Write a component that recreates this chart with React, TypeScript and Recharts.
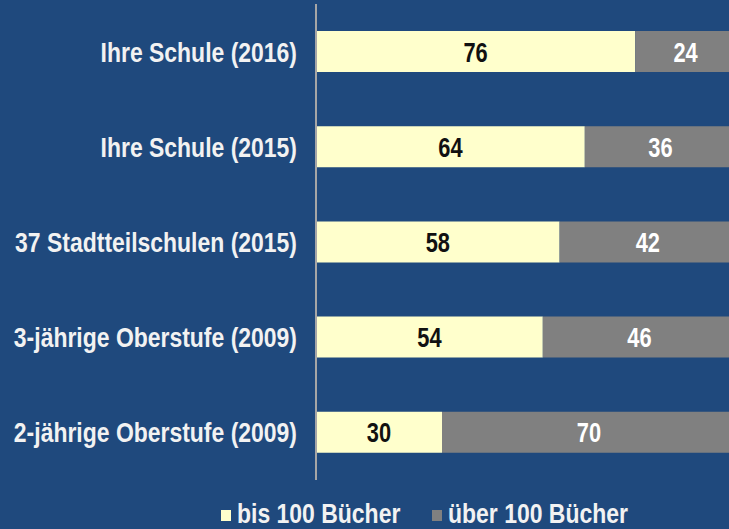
import React from 'react';
import { BarChart, Bar, XAxis, YAxis, LabelList } from 'recharts';

// Kategorien und Werte (Anteile in %)
const categories = [
  'Ihre Schule (2016)',
  'Ihre Schule (2015)',
  '37 Stadtteilschulen (2015)',
  '3-jährige Oberstufe (2009)',
  '2-jährige Oberstufe (2009)',
];
const bis100 = [76, 64, 58, 54, 30];
const ueber100 = [24, 36, 42, 46, 70];

const seriesNames = ['bis 100 Bücher', 'über 100 Bücher'];
const seriesColors = ['#ffffcc', '#808080'];
const labelColors = ['#111111', '#ffffff'];

const chartData = categories.map((name, i) => ({
  name,
  bis: bis100[i],
  ueber: ueber100[i],
}));

// keine Narrow-Schrift vorhanden -> Liberation Sans Bold horizontal stauchen
const FONT = "'Liberation Sans', Arial, sans-serif";
const SQUEEZE = 0.82;
const BG = '#1f497d';

const CategoryTick = (props: any) => {
  const { x, y, payload } = props;
  return (
    <g transform={`translate(${x},${y}) scale(${SQUEEZE},1)`}>
      <text
        x={0}
        y={0}
        dy={10}
        textAnchor="end"
        fill="#f2f2f2"
        fontSize={28}
        fontWeight="bold"
        fontFamily={FONT}
      >
        {payload.value}
      </text>
    </g>
  );
};

const makeValueLabel = (color: string) => (props: any) => {
  const { x, y, width, height, value } = props;
  const cx = Number(x) + Number(width) / 2;
  const cy = Number(y) + Number(height) / 2;
  return (
    <g transform={`translate(${cx},${cy}) scale(0.78,1)`}>
      <text
        x={0}
        y={0}
        dy={10}
        textAnchor="middle"
        fill={color}
        fontSize={28}
        fontWeight="bold"
        fontFamily={FONT}
      >
        {value}
      </text>
    </g>
  );
};

const legendX = [221, 432];

export default function App() {
  return (
    <div
      style={{
        position: 'absolute',
        left: 0,
        top: 0,
        width: 729,
        height: 529,
        overflow: 'hidden',
        background: BG,
        fontFamily: FONT,
      }}
    >
      <BarChart
        width={750}
        height={529}
        data={chartData}
        layout="vertical"
        margin={{ top: 4, right: 14, left: 0, bottom: 49 }}
        barCategoryGap={0}
      >
        <XAxis type="number" domain={[0, 100]} hide />
        <YAxis
          type="category"
          dataKey="name"
          width={316}
          axisLine={{ stroke: '#a6a6a6', strokeWidth: 2 }}
          tickLine={false}
          tickSize={0}
          tickMargin={19}
          tick={<CategoryTick />}
        />
        <Bar dataKey="bis" stackId="a" fill={seriesColors[0]} barSize={41} isAnimationActive={false}>
          <LabelList dataKey="bis" content={makeValueLabel(labelColors[0])} />
        </Bar>
        <Bar dataKey="ueber" stackId="a" fill={seriesColors[1]} barSize={41} isAnimationActive={false}>
          <LabelList dataKey="ueber" content={makeValueLabel(labelColors[1])} />
        </Bar>
      </BarChart>

      {/* Legende unten */}
      {seriesNames.map((n, i) => (
        <div
          key={n}
          style={{
            position: 'absolute',
            left: legendX[i],
            top: 498,
            display: 'flex',
            alignItems: 'center',
            whiteSpace: 'nowrap',
          }}
        >
          <div style={{ width: 10, height: 11, background: seriesColors[i], marginRight: 6, marginTop: 3 }} />
          <span
            style={{
              display: 'inline-block',
              color: '#f2f2f2',
              fontSize: 28,
              fontWeight: 'bold',
              transform: `scaleX(${SQUEEZE})`,
              transformOrigin: 'left center',
            }}
          >
            {n}
          </span>
        </div>
      ))}
    </div>
  );
}
